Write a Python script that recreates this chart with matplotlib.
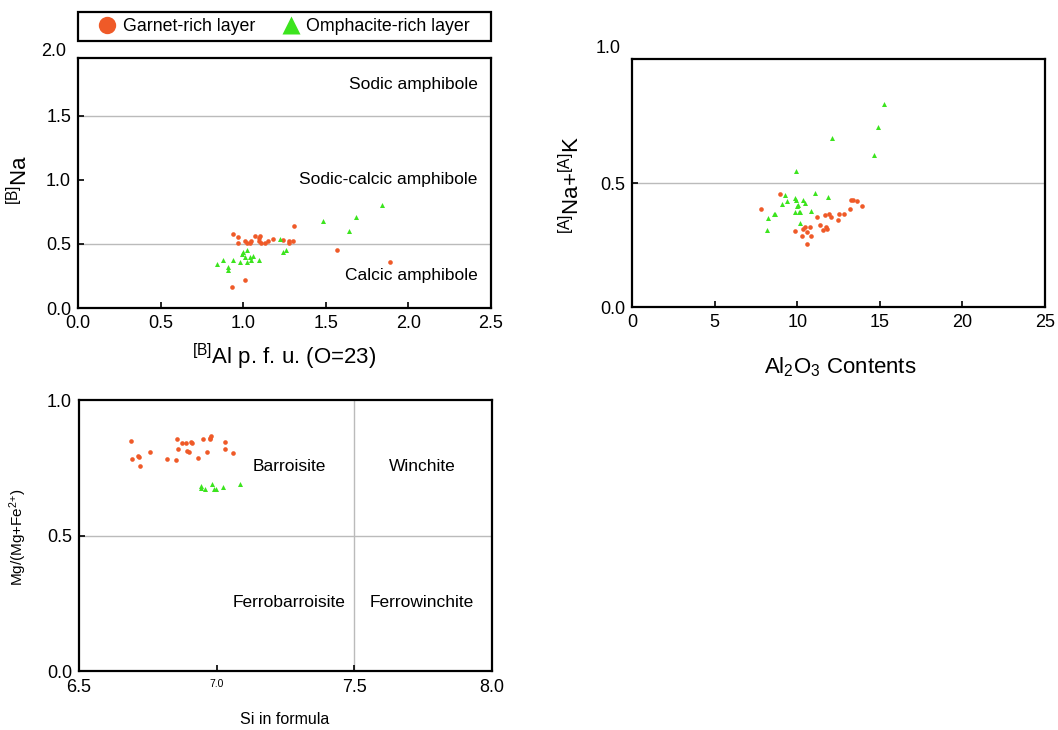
import matplotlib.pyplot as plt
from matplotlib.lines import Line2D
from matplotlib.patches import Rectangle

plt.rcParams["font.family"] = ["Liberation Sans", "DejaVu Sans"]
plt.rcParams["mathtext.default"] = "regular"

# panel 1: [B]Al vs [B]Na
al_b_garnet = [0.94, 0.97, 0.97, 1.01, 1.02, 1.04, 1.05, 1.07, 1.095, 1.10, 1.095, 1.11,
               1.13, 1.15, 1.18, 1.24, 1.28, 1.28, 1.30, 1.31, 1.57, 1.89, 1.01, 0.93]
na_b_garnet = [0.576, 0.55, 0.505, 0.526, 0.505, 0.51, 0.52, 0.565, 0.545, 0.558, 0.526, 0.505,
               0.51, 0.52, 0.54, 0.53, 0.526, 0.505, 0.526, 0.636, 0.453, 0.361, 0.222, 0.16]
al_b_omph = [0.84, 0.88, 0.91, 0.91, 0.94, 0.98, 0.99, 1.00, 1.01, 1.02, 1.02, 1.04,
             1.05, 1.06, 1.095, 1.22, 1.24, 1.26, 1.485, 1.64, 1.68, 1.84]
na_b_omph = [0.346, 0.374, 0.32, 0.296, 0.374, 0.36, 0.42, 0.435, 0.40, 0.45, 0.36, 0.40,
             0.374, 0.405, 0.374, 0.54, 0.44, 0.453, 0.68, 0.60, 0.71, 0.80]

# panel 2: Al2O3 vs [A]Na+[A]K
al2o3_omph = [15.24, 14.9, 12.1, 14.66, 9.92, 8.19, 8.23, 8.57, 8.67, 9.07, 9.27, 9.41, 9.84,
              9.92, 9.84, 10.02, 9.98, 10.08, 10.18, 10.18, 10.38, 10.48, 10.83, 11.05, 11.88]
nak_a_omph = [0.818, 0.726, 0.682, 0.611, 0.547, 0.311, 0.359, 0.376, 0.376, 0.414, 0.453, 0.428,
              0.439, 0.432, 0.385, 0.412, 0.408, 0.385, 0.385, 0.338, 0.43, 0.42, 0.389, 0.461, 0.442]
al2o3_garnet = [7.8, 8.93, 9.88, 10.32, 10.38, 10.5, 10.58, 10.58, 10.79, 10.83, 11.19, 11.39, 11.55,
                11.69, 11.75, 11.83, 11.9, 12.04, 12.44, 12.5, 12.86, 13.2, 13.25, 13.35, 13.65, 13.93]
nak_a_garnet = [0.396, 0.454, 0.305, 0.288, 0.315, 0.322, 0.303, 0.255, 0.322, 0.288, 0.364, 0.332,
                0.311, 0.370, 0.322, 0.315, 0.374, 0.364, 0.35, 0.376, 0.376, 0.397, 0.431, 0.432,
                0.428, 0.408]

# panel 3: Si vs Mg/(Mg+Fe2+)
si_garnet = [6.688, 6.692, 6.714, 6.717, 6.723, 6.759, 6.819, 6.852, 6.857, 6.859, 6.874, 6.889,
             6.894, 6.901, 6.905, 6.912, 6.934, 6.952, 6.964, 6.974, 6.976, 6.981, 7.029, 7.031, 7.058]
mg_garnet = [0.847, 0.782, 0.792, 0.789, 0.755, 0.807, 0.782, 0.777, 0.857, 0.821, 0.84, 0.841,
             0.812, 0.808, 0.846, 0.841, 0.786, 0.857, 0.808, 0.855, 0.861, 0.868, 0.846, 0.818, 0.805]
si_omph = [6.943, 6.944, 6.956, 6.984, 6.991, 6.998, 7.024, 7.084]
mg_omph = [0.683, 0.674, 0.673, 0.690, 0.671, 0.671, 0.679, 0.689]

ORANGE = "#EF5A28"
GREEN = "#3CE41E"
GRID = "#BBBBBB"
W, H = 1058, 730
TICK = 13
NOTE = 12.5


def frame(ax):
    for sp in ax.spines.values():
        sp.set_linewidth(1.6)
        sp.set_color("black")
    ax.tick_params(direction="in", length=4, width=1.2, labelsize=TICK, pad=5)


fig = plt.figure(figsize=(10.58, 7.30), dpi=100)

# ---- panel 1
ax1 = fig.add_axes([78 / W, 1 - 308 / H, 413 / W, 250 / H])
frame(ax1)
for y in (0.5, 1.5):
    ax1.axhline(y, color=GRID, lw=1, zorder=0)
ax1.scatter(al_b_garnet, na_b_garnet, s=11, marker="o", color=ORANGE, lw=0, zorder=3)
ax1.scatter(al_b_omph, na_b_omph, s=13, marker="^", color=GREEN, lw=0, zorder=3)
ax1.set_xlim(0, 2.5)
ax1.set_ylim(0, 1.95)
ax1.set_xticks([0, 0.5, 1.0, 1.5, 2.0, 2.5])
ax1.set_xticklabels(["0.0", "0.5", "1.0", "1.5", "2.0", "2.5"])
ax1.set_yticks([0, 0.5, 1.0, 1.5])
ax1.set_yticklabels(["0.0", "0.5", "1.0", "1.5"])
ax1.text(-0.028, 2.0, "2.0", ha="right", va="center", fontsize=TICK,
         transform=ax1.get_yaxis_transform(), clip_on=False)
ax1.text(2.418, 1.742, "Sodic amphibole", ha="right", va="center", fontsize=NOTE)
ax1.text(2.418, 1.0, "Sodic-calcic amphibole", ha="right", va="center", fontsize=NOTE)
ax1.text(2.418, 0.25, "Calcic amphibole", ha="right", va="center", fontsize=NOTE)
fig.text(284 / W, 1 - 357 / H, r"$^{[B]}$Al p. f. u. (O=23)", ha="center", va="center", fontsize=16)
fig.text(20 / W, 1 - 180 / H, r"$^{[B]}$Na", ha="center", va="center", fontsize=16, rotation=90)

# legend
fig.add_artist(Rectangle((78 / W, 1 - 41 / H), 413 / W, 29 / H, transform=fig.transFigure,
                         fill=False, ec="black", lw=1.6))
handles = [
    Line2D([], [], ls="none", marker="o", ms=12.5, color=ORANGE, mec="none"),
    Line2D([], [], ls="none", marker="^", ms=13.5, color=GREEN, mec="none"),
]
fig.legend(handles, ["Garnet-rich layer", "Omphacite-rich layer"], loc="center",
           bbox_to_anchor=(284 / W, 1 - 26.5 / H), ncol=2, frameon=False, fontsize=12.8,
           handlelength=1.0, handletextpad=0.35, columnspacing=1.5, borderpad=0)

# ---- panel 2
ax2 = fig.add_axes([632 / W, 1 - 307 / H, 413 / W, 248 / H])
frame(ax2)
ax2.axhline(0.5, color=GRID, lw=1, zorder=0)
ax2.scatter(al2o3_garnet, nak_a_garnet, s=11, marker="o", color=ORANGE, lw=0, zorder=3)
ax2.scatter(al2o3_omph, nak_a_omph, s=13, marker="^", color=GREEN, lw=0, zorder=3)
ax2.set_xlim(0, 25)
ax2.set_ylim(0, 1.0)
ax2.set_xticks([0, 5, 10, 15, 20, 25])
ax2.set_yticks([0, 0.5])
ax2.set_yticklabels(["0.0", "0.5"])
ax2.text(-0.028, 1.044, "1.0", ha="right", va="center", fontsize=TICK,
         transform=ax2.get_yaxis_transform(), clip_on=False)
fig.text(840 / W, 1 - 367 / H, r"Al$_2$O$_3$ Contents", ha="center", va="center", fontsize=16)
fig.text(572 / W, 1 - 185 / H, r"$^{[A]}$Na+$^{[A]}$K", ha="center", va="center", fontsize=16,
         rotation=90)

# ---- panel 3
ax3 = fig.add_axes([79 / W, 1 - 671 / H, 413 / W, 271 / H])
frame(ax3)
ax3.axhline(0.5, color=GRID, lw=1, zorder=0)
ax3.axvline(7.5, color=GRID, lw=1, zorder=0)
ax3.scatter(si_garnet, mg_garnet, s=11, marker="o", color=ORANGE, lw=0, zorder=3)
ax3.scatter(si_omph, mg_omph, s=13, marker="^", color=GREEN, lw=0, zorder=3)
ax3.set_xlim(6.5, 8.0)
ax3.set_ylim(0, 1.0)
ax3.set_xticks([6.5, 7.0, 7.5, 8.0])
ax3.set_xticklabels(["6.5", "7.0", "7.5", "8.0"])
ax3.get_xticklabels()[1].set_fontsize(7.5)
ax3.tick_params(axis="x", pad=6)
ax3.set_yticks([0, 0.5, 1.0])
ax3.set_yticklabels(["0.0", "0.5", "1.0"])
ax3.text(7.264, 0.753, "Barroisite", ha="center", va="center", fontsize=NOTE)
ax3.text(7.746, 0.753, "Winchite", ha="center", va="center", fontsize=NOTE)
ax3.text(7.264, 0.251, "Ferrobarroisite", ha="center", va="center", fontsize=NOTE)
ax3.text(7.746, 0.251, "Ferrowinchite", ha="center", va="center", fontsize=NOTE)
fig.text(285 / W, 1 - 719 / H, "Si in formula", ha="center", va="center", fontsize=11.5)
fig.text(18 / W, 1 - 537 / H, r"Mg/(Mg+Fe$^{2{+}}$)", ha="center", va="center", fontsize=11,
         rotation=90)

fig.savefig("out.png", dpi=100, facecolor="white")
